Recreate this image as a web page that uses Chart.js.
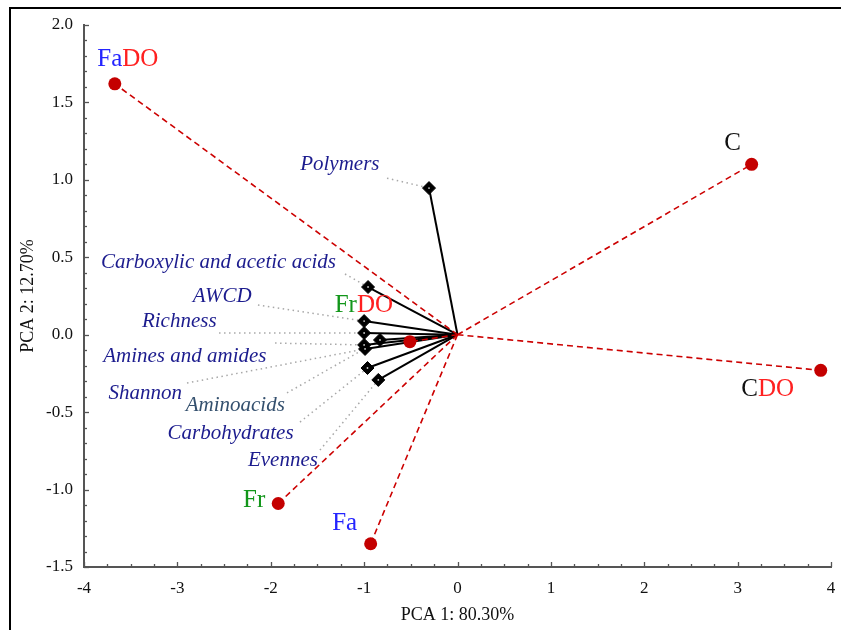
<!DOCTYPE html>
<html>
<head>
<meta charset="utf-8">
<script src="https://cdn.jsdelivr.net/npm/chart.js@4.4.1/dist/chart.umd.min.js"></script>
<style>
    body { margin: 0; background: #fff; }
    #wrap { position: relative; width: 841px; height: 630px; }
    #frame { position: absolute; left: 9px; top: 7px; right: 0; bottom: 0; border-left: 2px solid #000; border-top: 2px solid #000; pointer-events: none; }
</style>
</head>
<body>
<div id="wrap">
    <canvas id="pcaChart" width="841" height="630"></canvas>
    <div id="frame"></div>
</div>
<script>
// Sample scores (red circles)
const groupNames = ['FaDO', 'C', 'CDO', 'Fr', 'Fa', 'FrDO'];
const groupPC1 = [-3.67, 3.15, 3.89, -1.92, -0.93, -0.51];
const groupPC2 = [1.62, 1.10, -0.23, -1.09, -1.35, -0.045];

// Variable loadings (black diamonds)
const varNames = ['Polymers', 'Carboxylic and acetic acids', 'AWCD', 'Richness', 'Amines and amides',
    'Shannon', 'Aminoacids', 'Carbohydrates', 'Evennes'];
const varPC1 = [-0.305, -0.958, -1.0, -1.0, -1.0, -0.99, -0.83, -0.964, -0.848];
const varPC2 = [0.947, 0.308, 0.088, 0.011, -0.066, -0.092, -0.034, -0.215, -0.292];

// Axis ticks
const xTickLabels = ['-4', '-3', '-2', '-1', '0', '1', '2', '3', '4'];
const yTickLabels = ['-1.5', '-1.0', '-0.5', '0.0', '0.5', '1.0', '1.5', '2.0'];

// --- layout (label placement), kept apart from data ---
const groupLabelParts = [
    [['Fa', '#2424ff'], ['DO', '#ff2020']],
    [['C', '#111']],
    [['C', '#111'], ['DO', '#ff2020']],
    [['Fr', '#12961a']],
    [['Fa', '#2424ff']],
    [['Fr', '#12961a'], ['DO', '#ff2020']],
];
const groupLabelOffset = [[13, -24], [-19, -21], [-53, 19], [-24, -3], [-26, -20], [-46, -36]];
// label centre and leader start, in axis units
const varLabelAt = [[-1.26, 1.10], [-2.56, 0.465], [-2.52, 0.25], [-2.98, 0.083], [-2.92, -0.14],
    [-3.345, -0.38], [-2.38, -0.455], [-2.43, -0.64], [-1.87, -0.815]];
const varLeaderFrom = [[-0.755, 1.011], [-1.205, 0.392], [-2.137, 0.192], [-2.554, 0.011], [-1.954, -0.054],
    [-2.897, -0.312], [-1.826, -0.376], [-1.687, -0.564], [-1.473, -0.745]];
const varColors = ['#1c1c8e', '#1c1c8e', '#1c1c8e', '#1c1c8e', '#1c1c8e', '#1c1c8e', '#34506e', '#1c1c8e', '#1c1c8e'];

const SERIF = '"Liberation Serif", "Times New Roman", serif';

const datasets = [];

// dotted leaders from labels to diamonds
varNames.forEach((n, i) => {
    datasets.push({
        data: [{ x: varLeaderFrom[i][0], y: varLeaderFrom[i][1] }, { x: varPC1[i], y: varPC2[i] }],
        showLine: true, pointRadius: 0, borderColor: '#a8a8a8', borderWidth: 1.5,
        borderDash: [1.5, 3.5], order: 6,
    });
});

// solid loading vectors
varNames.forEach((n, i) => {
    datasets.push({
        data: [{ x: 0, y: 0 }, { x: varPC1[i], y: varPC2[i] }],
        showLine: true, pointRadius: 0, borderColor: '#000', borderWidth: 2, order: 5,
    });
});

// dashed score vectors
groupNames.forEach((n, i) => {
    datasets.push({
        data: [{ x: 0, y: 0 }, { x: groupPC1[i], y: groupPC2[i] }],
        showLine: true, pointRadius: 0, borderColor: '#cc0000', borderWidth: 1.6,
        borderDash: [6, 4], order: 3,
    });
});

datasets.push({
    data: varPC1.map((x, i) => ({ x, y: varPC2[i] })),
    pointStyle: 'rectRot', pointRadius: 6.5, backgroundColor: '#000', borderColor: '#000',
    borderWidth: 1, order: 4,
});
datasets.push({
    data: varPC1.map((x, i) => ({ x, y: varPC2[i] })),
    pointRadius: 0.9, backgroundColor: '#ccc', borderWidth: 0, order: 3.5,
});
datasets.push({
    data: groupPC1.map((x, i) => ({ x, y: groupPC2[i] })),
    pointRadius: 6.5, backgroundColor: '#c40000', borderColor: '#c40000', borderWidth: 0, order: 1,
});

const textPlugin = {
    id: 'pcaText',
    afterDraw(chart) {
        const { ctx, scales: { x, y } } = chart;
        ctx.save();

        // inward tick marks
        ctx.strokeStyle = '#555';
        ctx.lineWidth = 1.3;
        x.ticks.forEach(t => {
            const px = Math.round(x.getPixelForValue(t.value)) + 0.5;
            const major = Math.abs(t.value - Math.round(t.value)) < 1e-6;
            ctx.beginPath();
            ctx.moveTo(px, y.bottom);
            ctx.lineTo(px, y.bottom - (major ? 5 : 3));
            ctx.stroke();
        });
        y.ticks.forEach(t => {
            const py = Math.round(y.getPixelForValue(t.value)) + 0.5;
            const major = Math.abs(t.value * 2 - Math.round(t.value * 2)) < 1e-6;
            ctx.beginPath();
            ctx.moveTo(x.left, py);
            ctx.lineTo(x.left + (major ? 5 : 3), py);
            ctx.stroke();
        });

        // axis titles
        ctx.fillStyle = '#111';
        ctx.font = '18px ' + SERIF;
        ctx.textAlign = 'center';
        ctx.textBaseline = 'middle';
        ctx.fillText('PCA 1: 80.30%', (x.left + x.right) / 2, 615);
        ctx.save();
        ctx.translate(28, 296);
        ctx.rotate(-Math.PI / 2);
        ctx.fillText('PCA 2: 12.70%', 0, 0);
        ctx.restore();

        // variable labels
        ctx.font = 'italic 21px ' + SERIF;
        varNames.forEach((n, i) => {
            ctx.fillStyle = varColors[i];
            ctx.fillText(n, x.getPixelForValue(varLabelAt[i][0]), y.getPixelForValue(varLabelAt[i][1]));
        });

        // sample labels, coloured in parts
        ctx.font = '25px ' + SERIF;
        ctx.textAlign = 'left';
        groupNames.forEach((n, i) => {
            const parts = groupLabelParts[i];
            const total = parts.reduce((s, p) => s + ctx.measureText(p[0]).width, 0);
            let cx = x.getPixelForValue(groupPC1[i]) + groupLabelOffset[i][0] - total / 2;
            const cy = y.getPixelForValue(groupPC2[i]) + groupLabelOffset[i][1];
            parts.forEach(p => {
                ctx.fillStyle = p[1];
                ctx.fillText(p[0], cx, cy);
                cx += ctx.measureText(p[0]).width;
            });
        });
        ctx.restore();
    }
};

new Chart(document.getElementById('pcaChart'), {
    type: 'scatter',
    data: { datasets },
    options: {
        responsive: false,
        animation: false,
        events: [],
        layout: { padding: { top: 25, right: 10, left: 0, bottom: 0 } },
        plugins: { legend: { display: false }, tooltip: { enabled: false } },
        scales: {
            x: {
                type: 'linear', min: -4, max: 4,
                afterFit: (s) => { s.height = 63; s.paddingLeft = 0; s.paddingRight = 0; },
                grid: { display: false, drawTicks: false },
                border: { display: true, color: '#555', width: 2 },
                ticks: {
                    stepSize: 0.25, autoSkip: false, maxRotation: 0, padding: 11,
                    color: '#111', font: { family: SERIF, size: 17 },
                    callback: (v) => {
                        const k = xTickLabels.indexOf(String(Math.round(v)));
                        return Math.abs(v - Math.round(v)) < 1e-6 && k >= 0 ? xTickLabels[k] : '';
                    }
                }
            },
            y: {
                type: 'linear', min: -1.5, max: 2.0,
                afterFit: (s) => { s.width = 84; s.paddingTop = 0; s.paddingBottom = 0; },
                grid: { display: false, drawTicks: false },
                border: { display: true, color: '#555', width: 2 },
                ticks: {
                    stepSize: 0.1, autoSkip: false, padding: 11,
                    color: '#111', font: { family: SERIF, size: 17 },
                    callback: (v) => {
                        if (Math.abs(v * 2 - Math.round(v * 2)) > 1e-6) return '';
                        const k = yTickLabels.indexOf((Math.round(v * 2) / 2).toFixed(1));
                        return k >= 0 ? yTickLabels[k] : '';
                    }
                }
            }
        }
    },
    plugins: [textPlugin]
});
</script>
</body>
</html>
